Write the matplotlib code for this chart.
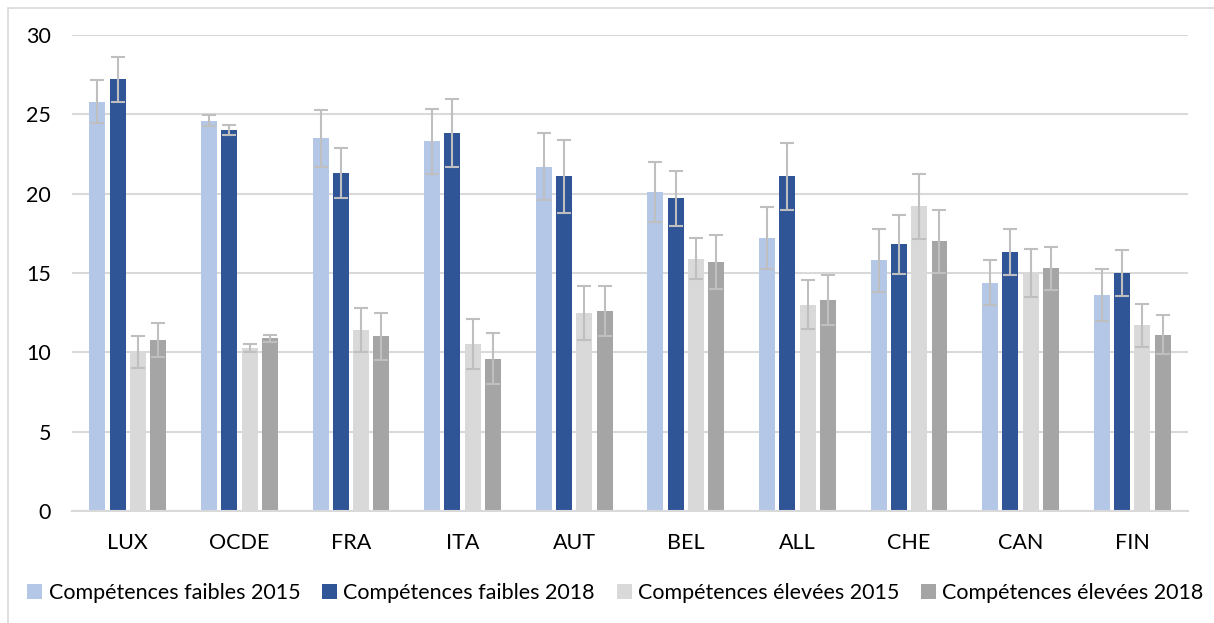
import numpy as np
import matplotlib.pyplot as plt
from matplotlib.patches import Rectangle

plt.rcParams['font.family'] = ['Lato', 'DejaVu Sans']

# Countries and series
pays = ["LUX", "OCDE", "FRA", "ITA", "AUT", "BEL", "ALL", "CHE", "CAN", "FIN"]
series_noms = ["Compétences faibles 2015", "Compétences faibles 2018",
               "Compétences élevées 2015", "Compétences élevées 2018"]

faibles_2015 = [25.8, 24.6, 23.5, 23.3, 21.7, 20.1, 17.2, 15.8, 14.4, 13.6]
faibles_2018 = [27.2, 24.0, 21.3, 23.8, 21.1, 19.7, 21.1, 16.8, 16.3, 15.0]
elevees_2015 = [10.0, 10.3, 11.4, 10.5, 12.5, 15.9, 13.0, 19.2, 15.0, 11.7]
elevees_2018 = [10.8, 10.9, 11.0, 9.6, 12.6, 15.7, 13.3, 17.0, 15.3, 11.1]

# error bar half-widths
err_f15 = [1.35, 0.35, 1.8, 2.05, 2.1, 1.9, 1.95, 2.0, 1.4, 1.65]
err_f18 = [1.4, 0.33, 1.6, 2.15, 2.3, 1.75, 2.1, 1.85, 1.45, 1.45]
err_e15 = [1.0, 0.25, 1.37, 1.57, 1.7, 1.3, 1.53, 2.05, 1.5, 1.35]
err_e18 = [1.07, 0.22, 1.5, 1.6, 1.6, 1.7, 1.55, 2.0, 1.35, 1.23]

couleurs = ["#B4C7E7", "#2F5597", "#D9D9D9", "#A5A5A5"]

fig = plt.figure(figsize=(12.14, 6.23), dpi=100)
ax = fig.add_axes([0.0593, 0.1798, 0.9193, 0.764])

x = np.arange(len(pays))
pas = 0.182
largeur = 0.143
valeurs = [faibles_2015, faibles_2018, elevees_2015, elevees_2018]
erreurs = [err_f15, err_f18, err_e15, err_e18]

for i, (vals, errs, c, nom) in enumerate(zip(valeurs, erreurs, couleurs, series_noms)):
    pos = x + (i - 1.5) * pas
    ax.bar(pos, vals, width=largeur, color=c, label=nom, zorder=2)
    ax.errorbar(pos, vals, yerr=errs, fmt="none", ecolor="#BFBFBF",
                elinewidth=1.5, capsize=5, capthick=1.5, zorder=3)

ax.set_ylim(0, 30)
ax.set_xlim(-0.5, len(pays) - 0.5)
ax.set_yticks([0, 5, 10, 15, 20, 25, 30])
ax.set_xticks(x)
ax.set_xticklabels(pays)
ax.yaxis.grid(True, color="#D9D9D9", linewidth=1.5, zorder=0)
ax.set_axisbelow(True)
for s in ["top", "right", "left"]:
    ax.spines[s].set_visible(False)
ax.spines["bottom"].set_color("#D9D9D9")
ax.spines["bottom"].set_linewidth(1.5)
ax.tick_params(axis="both", length=0, labelsize=15.5, colors="black")
ax.tick_params(axis="y", pad=15)
ax.tick_params(axis="x", pad=16)

leg = fig.legend(loc="center", bbox_to_anchor=(0.507, 0.048), ncol=4, frameon=False,
                 fontsize=15.5, handlelength=0.7, handleheight=0.7,
                 handletextpad=0.3, columnspacing=1.0)

# light border of the chart area
fig.patches.append(Rectangle((8 / 1214, -0.1), 1.2, 1 - 8 / 623 + 0.1,
                             transform=fig.transFigure, fill=False,
                             edgecolor="#D9D9D9", linewidth=1.2))

fig.savefig("out.png", dpi=100)
